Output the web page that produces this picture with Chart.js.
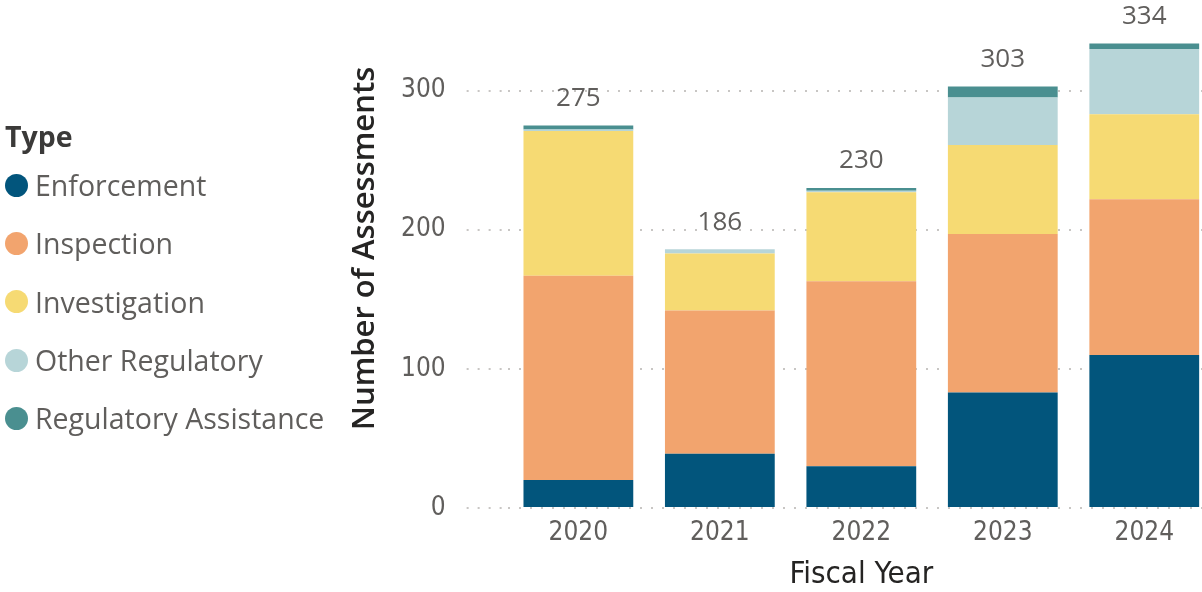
<!DOCTYPE html>
<html>
<head>
<meta charset="utf-8">
<script src="https://cdn.jsdelivr.net/npm/chart.js@4.4.1/dist/chart.umd.min.js"></script>
<style>
  html, body { margin: 0; padding: 0; background: #fff; overflow: hidden; }
  #wrap { position: relative; width: 1202px; height: 592px; overflow: hidden; }
  #chart { position: absolute; left: 0; top: 0; }
  #legend { position: absolute; left: 5px; top: 116px; font-family: "Open Sans", sans-serif; }
  #legend .title { font-weight: 700; font-size: 28.5px; color: #3b3a39; height: 40px; line-height: 40px; }
  #legend .item { display: flex; align-items: center; height: 58.3px; font-size: 28.5px; color: #605e5c; }
  #legend .dot { width: 23px; height: 23px; border-radius: 50%; margin-right: 7px; flex: none; }
</style>
</head>
<body>
<div id="wrap">
  <canvas id="chart" width="1216" height="592"></canvas>
  <div id="legend"></div>
</div>
<script>
// fiscal years and counts per assessment type
const years = ['2020', '2021', '2022', '2023', '2024'];
const enforcement = [20, 39, 30, 83, 110];
const inspection = [147, 103, 133, 114, 112];
const investigation = [104, 41, 64, 64, 61];
const otherRegulatory = [1, 3, 1, 34, 47];
const regulatoryAssistance = [3, 0, 2, 8, 4];
const yTicks = [0, 100, 200, 300];

const seriesNames = ['Enforcement', 'Inspection', 'Investigation', 'Other Regulatory', 'Regulatory Assistance'];
const seriesValues = [enforcement, inspection, investigation, otherRegulatory, regulatoryAssistance];
const seriesColors = ['#02557c', '#f2a46e', '#f6da73', '#b7d5d8', '#4a8f90'];

const condensed = '"DejaVu Sans Condensed", "Liberation Sans Narrow", sans-serif';
const yTitle = 'Number of Assessments';

// legend (html, left side)
const legendEl = document.getElementById('legend');
legendEl.innerHTML = '<div class="title">Type</div>' + seriesNames.map((name, i) =>
  '<div class="item"><span class="dot" style="background:' + seriesColors[i] + '"></span>' + name + '</div>'
).join('');

// total above each stacked bar + the y axis title (drawn a bit above centre, like the original)
const totalsPlugin = {
  id: 'totals',
  afterDatasetsDraw(chart) {
    const ctx = chart.ctx;
    const yScale = chart.scales.y;
    const meta = chart.getDatasetMeta(0);
    ctx.save();
    ctx.font = '26px "Open Sans", sans-serif';
    ctx.fillStyle = '#605e5c';
    ctx.textAlign = 'center';
    ctx.textBaseline = 'middle';
    years.forEach((year, i) => {
      const total = seriesValues.reduce((sum, arr) => sum + arr[i], 0);
      const x = meta.data[i].x;
      const y = yScale.getPixelForValue(total) - 27;
      ctx.fillText(String(total), x, y);
    });

    // y axis title
    ctx.font = '600 31px "Open Sans", sans-serif';
    ctx.fillStyle = '#252423';
    ctx.translate(yScale.left + 18, (chart.chartArea.top + chart.chartArea.bottom) / 2 - 16);
    ctx.rotate(-Math.PI / 2);
    ctx.fillText(yTitle, 0, 0);
    ctx.restore();
  }
};

const ctx = document.getElementById('chart').getContext('2d');
new Chart(ctx, {
  type: 'bar',
  data: {
    labels: years,
    datasets: seriesNames.map((name, i) => ({
      label: name,
      data: seriesValues[i],
      backgroundColor: seriesColors[i],
      borderWidth: 0,
      barPercentage: 0.776,
      categoryPercentage: 1,
    })),
  },
  options: {
    responsive: false,
    devicePixelRatio: 1,
    animation: false,
    layout: {
      padding: { left: 347, top: 0, right: 1, bottom: 0 },
    },
    plugins: {
      legend: { display: false },
      tooltip: { enabled: false },
    },
    scales: {
      x: {
        stacked: true,
        grid: { display: false, drawTicks: false },
        border: { display: false },
        ticks: {
          color: '#605e5c',
          padding: 12,
          font: { family: condensed, size: 26, lineHeight: 1 },
        },
        title: {
          display: true,
          text: 'Fiscal Year',
          color: '#252423',
          padding: 0,
          font: { family: condensed, size: 31, lineHeight: 1.1 },
        },
      },
      y: {
        stacked: true,
        min: 0,
        max: 350,
        afterBuildTicks: (axis) => { axis.ticks = yTicks.map(v => ({ value: v })); },
        afterFit: (axis) => { axis.width += 33; },
        grid: {
          color: '#c8c6c4',
          lineWidth: 2,
          tickLength: 41,
          tickColor: '#c8c6c4',
          tickWidth: 2,
          tickBorderDash: [2, 9],
        },
        border: { display: false, dash: [2, 9] },
        ticks: {
          color: '#605e5c',
          padding: 21,
          font: { family: condensed, size: 26, lineHeight: 0.01 },
        },
        title: { display: false },
      },
    },
  },
  plugins: [totalsPlugin],
});
</script>
</body>
</html>
